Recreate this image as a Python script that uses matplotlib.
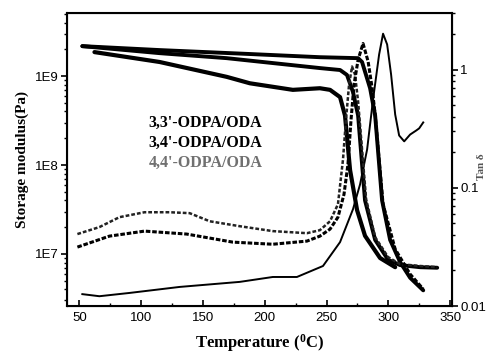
import numpy as np
import matplotlib.pyplot as plt
from matplotlib.ticker import LogLocator, NullFormatter, FixedLocator, FixedFormatter, MultipleLocator

# storage modulus (Pa), left axis
s_top_T = [52.4, 114.9, 187.9, 244.6, 275.5, 278.7, 285.2, 289.3, 294.9, 301.4, 309.5, 317.6, 328.2]
s_top_E = [2.17e9, 1.96e9, 1.77e9, 1.63e9, 1.59e9, 1.44e9, 7.3e8, 3.6e8, 4.0e7, 1.44e7, 8.1e6, 5.4e6, 3.9e6]

s_mid_T = [52.4, 114.9, 169.2, 244.6, 260.9, 266.5, 271.4, 275.5, 281.1, 289.3, 299.8, 309.5, 325.7, 339.5]
s_mid_E = [2.17e9, 1.81e9, 1.59e9, 1.23e9, 1.17e9, 1.03e9, 6.6e8, 3.6e8, 4.0e7, 1.44e7, 8.6e6, 7.5e6, 7.1e6, 7.0e6]

s_bot_T = [62.2, 114.9, 169.2, 187.9, 222.7, 244.6, 252.8, 260.9, 264.9, 269.0, 274.7, 281.1, 293.3, 305.5]
s_bot_E = [1.86e9, 1.44e9, 9.8e8, 8.3e8, 7.0e8, 7.3e8, 7.0e8, 5.8e8, 3.6e8, 8.8e7, 3.1e7, 1.6e7, 9.0e6, 7.1e6]

# tan delta, right axis
t_thin_T = [52.4, 66.2, 90.6, 131.1, 179.8, 206.5, 226.0, 247.1, 260.9, 271.4, 277.1, 282.8,
            287.6, 292.5, 295.7, 299.0, 302.2, 305.5, 308.7, 312.8, 317.6, 322.5, 324.9, 328.2]
t_thin_D = [0.0126, 0.0121, 0.0129, 0.0145, 0.0160, 0.0176, 0.0176, 0.0218, 0.0347, 0.066, 0.107, 0.211,
            0.558, 1.34, 2.01, 1.63, 0.908, 0.417, 0.277, 0.247, 0.282, 0.305, 0.318, 0.357]

t_d1_T = [48.4, 66.2, 82.4, 102.7, 123.0, 139.2, 155.4, 179.8, 206.5, 234.1, 244.6, 252.8, 259.2,
          263.3, 265.7, 268.2, 270.6, 273.0, 275.5, 278.7, 282.0, 289.3, 299.8, 309.5, 325.7, 339.5]
t_d1_D = [0.0406, 0.0465, 0.0564, 0.0621, 0.0621, 0.0610, 0.0521, 0.0473, 0.0430, 0.0413, 0.0438,
          0.0521, 0.0726, 0.174, 0.378, 0.746, 1.06, 0.908, 0.537, 0.211, 0.080, 0.0382, 0.0259,
          0.0226, 0.0218, 0.0213]

t_d2_T = [48.4, 74.3, 102.7, 136.8, 174.1, 206.5, 234.1, 244.6, 252.8, 259.2, 264.1, 267.3, 269.8,
          272.2, 275.5, 279.5, 283.6, 286.8, 289.3, 292.5, 295.7, 305.5, 317.6, 328.2]
t_d2_D = [0.0315, 0.0390, 0.0430, 0.0406, 0.0347, 0.0333, 0.0354, 0.0390, 0.0447, 0.0564, 0.0881,
          0.158, 0.378, 0.746, 1.21, 1.66, 1.17, 0.705, 0.417, 0.174, 0.0726, 0.0303, 0.0186, 0.0139]

legend_txt = ["3,3'-ODPA/ODA", "3,4'-ODPA/ODA", "4,4'-ODPA/ODA"]
legend_col = ["black", "black", "#707070"]

fig = plt.figure(figsize=(4.87, 3.55), dpi=100)
ax = fig.add_axes([0.1376, 0.138, 0.7906, 0.825])
ax2 = ax.twinx()

ax.plot(s_top_T, s_top_E, color="black", lw=2.8, solid_capstyle="round")
ax.plot(s_mid_T, s_mid_E, color="black", lw=2.8, solid_capstyle="round")
ax.plot(s_bot_T, s_bot_E, color="black", lw=3.0, solid_capstyle="round")

ax2.plot(t_thin_T, t_thin_D, color="black", lw=1.4)
ax2.plot(t_d1_T, t_d1_D, color="#222222", lw=1.8, ls=(0, (1.5, 0.8)))
ax2.plot(t_d2_T, t_d2_D, color="black", lw=2.2, ls=(0, (1.5, 0.6)))

ax.set_yscale("log")
ax.set_xlim(40, 351.5)
ax.set_ylim(2.6e6, 5.1e9)
ax2.set_yscale("log")
ax2.set_ylim(0.01, 3.0)

tick_font = dict(family="Liberation Sans", size=9.5)
ax.xaxis.set_minor_locator(MultipleLocator(25))
ax.set_xticks([50, 100, 150, 200, 250, 300, 350])
ax.set_xticklabels(["50", "100", "150", "200", "250", "300", "350"], fontdict=tick_font)

ax.yaxis.set_major_locator(FixedLocator([1e7, 1e8, 1e9]))
ax.yaxis.set_major_formatter(FixedFormatter(["1E7", "1E8", "1E9"]))
ax.yaxis.set_minor_locator(LogLocator(base=10, subs=np.arange(2, 10)))
ax.yaxis.set_minor_formatter(NullFormatter())
for lab in ax.get_yticklabels():
    lab.set_fontfamily("Liberation Sans")
    lab.set_fontsize(9.5)

ax2.yaxis.set_major_locator(FixedLocator([0.01, 0.1, 1]))
ax2.yaxis.set_major_formatter(FixedFormatter(["0.01", "0.1", "1"]))
ax2.yaxis.set_minor_locator(LogLocator(base=10, subs=np.arange(2, 10)))
ax2.yaxis.set_minor_formatter(NullFormatter())
for lab in ax2.get_yticklabels():
    lab.set_fontfamily("Liberation Sans")
    lab.set_fontsize(9.5)

ax.tick_params(axis="y", which="major", direction="out", length=4, width=1.2, pad=2)
ax.tick_params(axis="y", which="minor", direction="out", length=2, width=1)
ax2.tick_params(axis="y", which="major", direction="out", length=4, width=1.2, pad=2)
ax2.tick_params(axis="y", which="minor", direction="out", length=2, width=1)
ax.tick_params(axis="x", which="major", direction="in", length=4, width=1.2, pad=4)
ax.tick_params(axis="x", which="minor", direction="in", length=2.5, width=1)

for sp in ax2.spines.values():
    sp.set_linewidth(1.5)

serif_b = dict(family="Liberation Serif", weight="bold")
ax.set_xlabel("Temperature ($\\mathregular{^{0}}$C)", fontsize=12, labelpad=6, **serif_b)
ax.set_ylabel("Storage modulus(Pa)", fontsize=11, labelpad=4, **serif_b)

for i, (txt, col) in enumerate(zip(legend_txt, legend_col)):
    ax.text(0.211, 0.627 - i * 0.069, txt, transform=ax.transAxes, color=col,
            fontsize=11.5, va="center", ha="left", **serif_b)

# right axis label sits at the very edge of the figure
fig.text(0.997, 0.53, "Tan δ", rotation=90, ha="right", va="center",
         fontsize=8, family="Liberation Serif", weight="bold", color="#555555")

fig.savefig("out.png", dpi=100)
